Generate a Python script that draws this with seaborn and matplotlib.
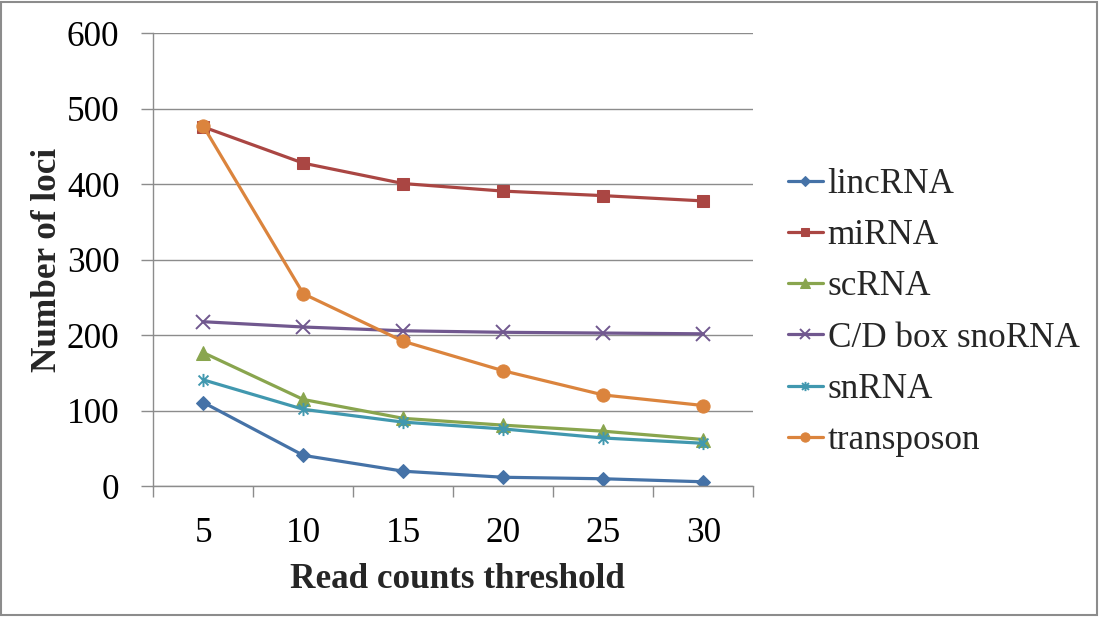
import numpy as np
import pandas as pd
import seaborn as sns
import matplotlib
matplotlib.use("Agg")
import matplotlib.pyplot as plt
from matplotlib.path import Path
from matplotlib.patches import Rectangle

# Read-count thresholds and number of loci retained for each RNA class
thresholds = [5, 10, 15, 20, 25, 30]
series_names = ["lincRNA", "miRNA", "scRNA", "C/D box snoRNA", "snRNA", "transposon"]
lincrna = [111, 41, 20, 12, 10, 6]
mirna = [476, 428, 401, 391, 385, 378]
scrna = [177, 115, 90, 81, 73, 62]
cd_box_snorna = [218, 211, 206, 204, 203, 202]
snrna = [141, 102, 85, 76, 64, 57]
transposon = [477, 255, 192, 153, 121, 107]
y_ticks = [0, 100, 200, 300, 400, 500, 600]

sns.set_theme(style="white")
plt.rcParams["font.family"] = ["Liberation Serif", "DejaVu Serif"]

FS = 25.3

# Asterisk-like marker: vertical stroke plus two diagonals
star_path = Path(
    [(0, -1), (0, 1), (-0.75, -0.75), (0.75, 0.75), (-0.75, 0.75), (0.75, -0.75)],
    [Path.MOVETO, Path.LINETO, Path.MOVETO, Path.LINETO, Path.MOVETO, Path.LINETO],
)

styles = {
    "lincRNA": dict(color="#4572A7", marker="D", markersize=7.5),
    "miRNA": dict(color="#AA4643", marker="s", markersize=9),
    "scRNA": dict(color="#89A54E", marker="^", markersize=10),
    "C/D box snoRNA": dict(color="#71588F", marker="x", markersize=9.5, markeredgewidth=1.4),
    "snRNA": dict(color="#4198AF", marker=star_path, markersize=9.5, markeredgewidth=1.4),
    "transposon": dict(color="#DB843D", marker="o", markersize=9.5),
}
values = [lincrna, mirna, scrna, cd_box_snorna, snrna, transposon]

fig = plt.figure(figsize=(11, 6.17), dpi=100)
ax = fig.add_axes([0.1394, 0.2118, 0.5455, 0.7342])

df = pd.DataFrame({
    "threshold": np.tile(thresholds, len(series_names)),
    "loci": np.concatenate(values),
    "series": np.repeat(series_names, len(thresholds)),
})

for name in series_names:
    st = dict(styles[name])
    color = st.pop("color")
    sub = df[df["series"] == name]
    sns.lineplot(
        data=sub, x="threshold", y="loci", ax=ax, color=color, linewidth=2.3,
        markeredgecolor=color, label=name, **st,
    )

grid_color = "#8C8C8C"
ax.set_xlim(2.5, 32.5)
ax.set_ylim(0, 600)
ax.set_yticks(y_ticks)
ax.set_xticks(thresholds)
ax.set_xticks(np.arange(2.5, 33, 5), minor=True)
ax.grid(axis="y", color=grid_color, linewidth=1.0)
ax.set_axisbelow(True)
for side in ["top", "right"]:
    ax.spines[side].set_visible(False)
for side in ["left", "bottom"]:
    ax.spines[side].set_color(grid_color)
    ax.spines[side].set_linewidth(1.0)

ax.tick_params(axis="y", which="major", length=8.4, width=1.0, color=grid_color,
               direction="out", left=True, pad=16, labelsize=FS, labelcolor="black")
ax.tick_params(axis="x", which="major", length=0, pad=22, labelsize=FS, labelcolor="black")
ax.tick_params(axis="x", which="minor", length=7.7, width=1.0, color=grid_color,
               direction="out", bottom=True)

ax.set_xlabel("Read counts threshold", fontsize=FS, fontweight="bold")
ax.set_ylabel("Number of loci", fontsize=FS, fontweight="bold")
ax.xaxis.set_label_coords(0.506, -0.170)
ax.yaxis.set_label_coords(-0.149, 0.5)

ax.legend(
    loc="center left", bbox_to_anchor=(0.700, 0.4935), bbox_transform=fig.transFigure,
    frameon=False, fontsize=FS, handlelength=1.0, handletextpad=0.14,
    labelspacing=0.52, borderpad=0, markerscale=0.7,
)

fig.patches.append(Rectangle((0.001, 0.003), 0.996, 0.994, transform=fig.transFigure,
                             fill=False, edgecolor="#8C8C8C", linewidth=1.5))

fig.savefig("out.png", dpi=100)
